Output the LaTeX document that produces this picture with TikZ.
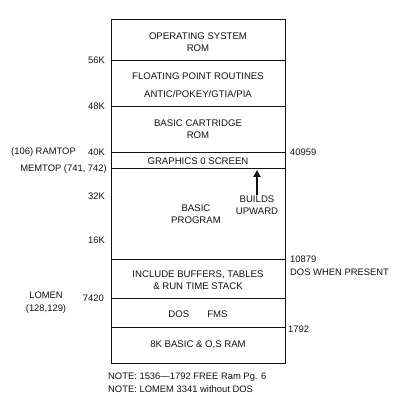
\documentclass[tikz,border=0pt]{standalone}
\usepackage{fontspec}
\setmainfont{Liberation Sans}
\usetikzlibrary{arrows.meta, positioning}
\definecolor{InkBlack}{HTML}{111111}
\tikzset{
  memline/.style={draw=InkBlack, line width=1pt},
  areatext/.style={align=center, inner sep=1pt, font=\fontsize{9.6}{11.5}\selectfont, text=InkBlack},
  leftlabel/.style={anchor=east, inner sep=1pt, font=\fontsize{9.4}{11}\selectfont, text=InkBlack},
  rightlabel/.style={anchor=west, inner sep=1pt, font=\fontsize{9.4}{11}\selectfont, text=InkBlack},
  notetext/.style={anchor=west, inner sep=1pt, font=\fontsize{9.4}{11}\selectfont, text=InkBlack},
  uparrow/.style={-{Triangle[length=7pt, width=7pt]}, line width=2.4pt, draw=InkBlack}
}
\begin{document}
\begin{tikzpicture}[x=1pt, y=-1pt]
\useasboundingbox (0,0) rectangle (408,395);
% memory map column
\draw[memline] (111,20) rectangle (285,364);
\foreach \yy in {61,107,153,169,260,299,328}
  \draw[memline] (111,\yy) -- (285,\yy);
% areas
\node[areatext] (osrom) at (198,42) {OPERATING SYSTEM\\ROM};
\node[areatext] (fpr) at (198,76) {FLOATING POINT ROUTINES};
\node[areatext] (antic) at (198,94) {ANTIC/POKEY/GTIA/PIA};
\node[areatext] (cart) at (198,129) {BASIC CARTRIDGE\\ROM};
\node[areatext] (gr0) at (198,161) {GRAPHICS 0 SCREEN};
\node[areatext] (prog) at (196,214) {BASIC\\PROGRAM};
\node[areatext] (builds) at (257,205) {BUILDS\\UPWARD};
\node[areatext] (bufs) at (198,280) {INCLUDE BUFFERS, TABLES\\\& RUN TIME STACK};
\node[areatext] (dosfms) at (198,314) {DOS\hspace{18pt}FMS};
\node[areatext] (basram) at (198,345) {8K BASIC \& O,S RAM};
\coordinate (memtop) at (257,170);
\draw[uparrow] (builds.north) -- (memtop);
% left side addresses
\node[leftlabel] (k56) at (106,60) {56K};
\node[leftlabel] (k48) at (106,106) {48K};
\node[leftlabel] (k40) at (106,152) {40K};
\node[leftlabel] (ramtop) at (77,152) {(106) RAMTOP};
\node[leftlabel] (memtopl) at (108,169) {MEMTOP (741, 742)};
\node[leftlabel] (k32) at (106,196) {32K};
\node[leftlabel] (k16) at (106,240) {16K};
\node[leftlabel] (a7420) at (105,298) {7420};
\node[areatext, font=\fontsize{9.4}{13}\selectfont] (lomem) at (46,303) {LOMEN\\(128,129)};
% right side addresses
\node[rightlabel] (a40959) at (289,152) {40959};
\node[rightlabel] (a10879) at (289,259) {10879};
\node[rightlabel] (doswhen) at (289,272) {DOS WHEN PRESENT};
\node[rightlabel] (a1792) at (287,329) {1792};
% notes
\node[notetext] (note1) at (107,377) {NOTE: 1536---1792 FREE Ram Pg. 6};
\node[notetext] (note2) at (107,389) {NOTE: LOMEM 3341 without DOS};
\end{tikzpicture}
\end{document}
